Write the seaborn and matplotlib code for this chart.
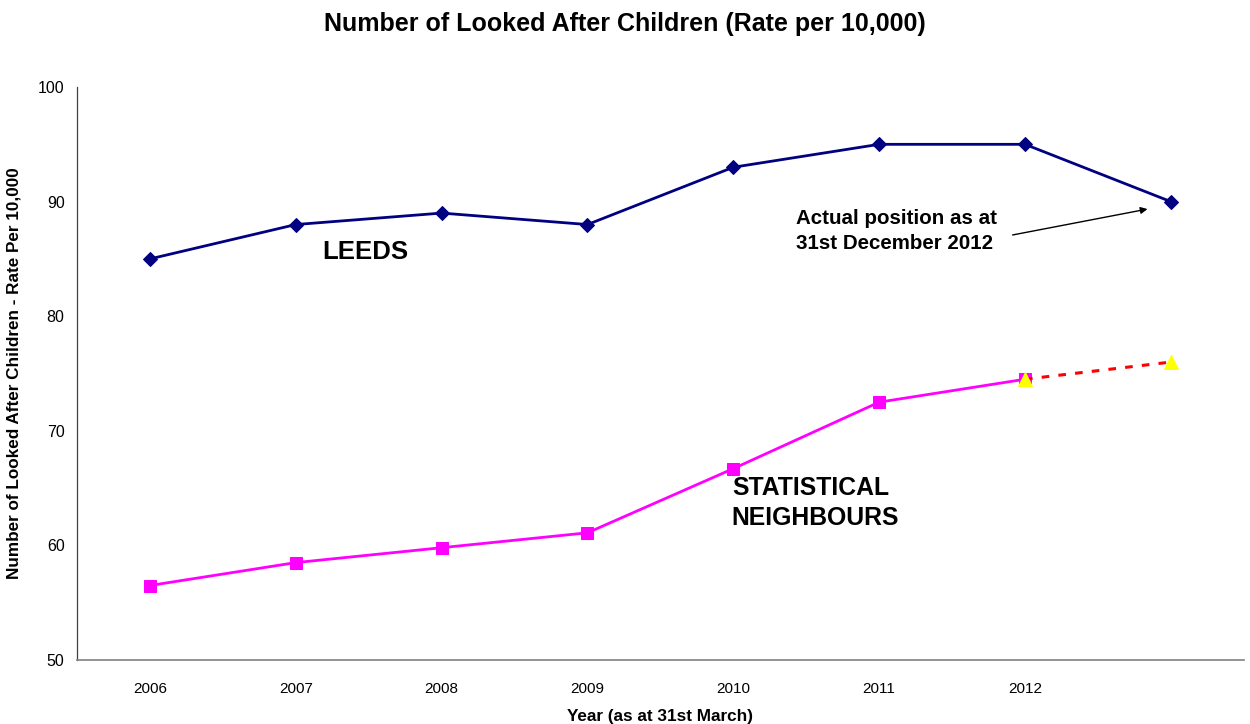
import pandas as pd
import numpy as np
import matplotlib
matplotlib.use("Agg")
import matplotlib.pyplot as plt
from matplotlib.ticker import FixedLocator, NullFormatter
import seaborn as sns

years = ["2006", "2007", "2008", "2009", "2010", "2011", "2012", ""]
leeds = [85, 88, 89, 88, 93, 95, 95, 90]
stat_neighbours = [56.5, 58.5, 59.8, 61.1, 66.7, 72.5, 74.5]
projection = [74.5, 76.0]

sns.set_style("white")
plt.rcParams["font.family"] = ["Liberation Sans", "DejaVu Sans"]
plt.rcParams["text.color"] = "black"
plt.rcParams["axes.labelcolor"] = "black"
plt.rcParams["xtick.color"] = "black"
plt.rcParams["ytick.color"] = "black"

pos = np.arange(len(years))
leeds_df = pd.DataFrame({"pos": pos, "rate": leeds})
stat_df = pd.DataFrame({"pos": pos[:len(stat_neighbours)], "rate": stat_neighbours})
proj_df = pd.DataFrame({"pos": pos[len(stat_neighbours) - 1:len(stat_neighbours) + 1], "rate": projection})

fig = plt.figure(figsize=(12.5, 7.24), dpi=100)
ax = fig.add_axes([0.0616, 0.0884, 0.9334, 0.7914])

sns.lineplot(data=leeds_df, x="pos", y="rate", ax=ax, color="#000080", linewidth=2,
             marker="D", markersize=7, markeredgecolor="#000080", markerfacecolor="#000080")
sns.lineplot(data=stat_df, x="pos", y="rate", ax=ax, color="#FF00FF", linewidth=2,
             marker="s", markersize=8, markeredgecolor="#FF00FF", markerfacecolor="#FF00FF")
sns.lineplot(data=proj_df, x="pos", y="rate", ax=ax, color="#FF0000", linewidth=2.2,
             linestyle=(0, (2.5, 3)), marker="^", markersize=10,
             markeredgecolor="#FFFF00", markerfacecolor="#FFFF00")

ax.set_xlim(-0.5, len(years) - 0.5)
ax.set_ylim(50, 100)
ax.set_yticks([50, 60, 70, 80, 90, 100])
ax.set_xticks(pos)
ax.set_xticklabels(years)
ax.xaxis.set_minor_locator(FixedLocator(np.arange(len(years) + 1) - 0.5))
ax.xaxis.set_minor_formatter(NullFormatter())
ax.tick_params(axis="x", which="major", length=0, pad=16, labelsize=11)
ax.tick_params(axis="x", which="minor", length=6, width=0.8, color="#808080", direction="out")
ax.tick_params(axis="y", length=6, width=0.8, color="#808080", direction="out", labelsize=11.5, pad=3)

for side in ["top", "right"]:
    ax.spines[side].set_visible(False)
ax.spines["left"].set_color("#404040")
ax.spines["bottom"].set_color("#808080")
ax.spines["left"].set_linewidth(0.9)
ax.spines["bottom"].set_linewidth(1.2)

ax.set_xlabel("Year (as at 31st March)", fontsize=12.3, fontweight="bold", labelpad=9)
ax.set_ylabel("Number of Looked After Children - Rate Per 10,000", fontsize=12.3,
              fontweight="bold", labelpad=12)
fig.suptitle("Number of Looked After Children (Rate per 10,000)", fontsize=18,
             fontweight="bold", y=0.983)

ax.text(1.18, 85.6, "LEEDS", fontsize=18.5, fontweight="bold", ha="left", va="center")
ax.text(3.99, 63.7, "STATISTICAL\nNEIGHBOURS", fontsize=17.8, fontweight="bold",
        ha="left", va="center", linespacing=1.3)
ax.text(4.43, 87.45, "Actual position as at\n31st December 2012", fontsize=14.8,
        fontweight="bold", ha="left", va="center", linespacing=1.42)
ax.annotate("", xy=(6.84, 89.35), xytext=(5.915, 87.09),
            arrowprops=dict(arrowstyle="-|>", color="black", lw=1, shrinkA=0, shrinkB=0,
                            mutation_scale=10))

fig.savefig("out.png", dpi=100)
